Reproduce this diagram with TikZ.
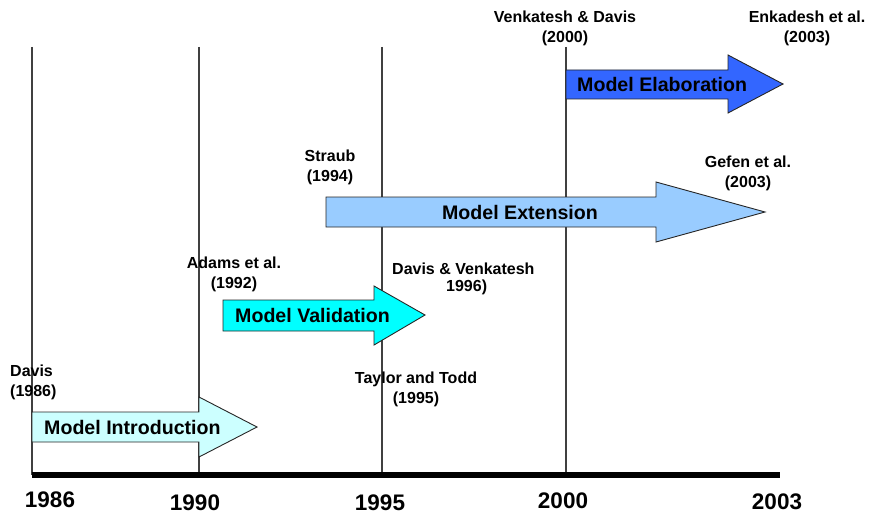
\documentclass[tikz,border=0pt]{standalone}
\usepackage{fontspec}
\setmainfont{Liberation Sans}
\begin{document}
\begin{tikzpicture}[x=1pt,y=-1pt,
  yearline/.style={draw=black!75,line width=1.1pt},
  axisline/.style={draw=black,line width=5.5pt},
  phase/.style={draw=black!85,line width=0.9pt,line join=miter},
  phasetext/.style={font=\fontsize{19.6}{22}\selectfont\bfseries,inner sep=0pt,anchor=west},
  author/.style={font=\fontsize{16}{20}\selectfont\bfseries,align=center,inner sep=0pt},
  year/.style={font=\fontsize{22.5}{26}\selectfont\bfseries,inner sep=0pt}]
\useasboundingbox (0,0) rectangle (869,516);

% year positions along the axis
\coordinate (t86) at (32,475);
\coordinate (t90) at (199,475);
\coordinate (t95) at (382,475);
\coordinate (t00) at (566,475);
\coordinate (t03) at (780,475);
\coordinate (top86) at (32,47);
\coordinate (top90) at (199,47);
\coordinate (top95) at (382,47);
\coordinate (top00) at (566,47);

% vertical year markers
\draw[yearline] (top86) -- (t86);
\draw[yearline] (top90) -- (t90);
\draw[yearline] (top95) -- (t95);
\draw[yearline] (top00) -- (t00);

% time axis
\draw[axisline] ([xshift=-0.5pt]t86) -- (t03);

% year labels
\node[year] (y86) at (50,500) {1986};
\node[year] (y90) at (195,503) {1990};
\node[year] (y95) at (380,503) {1995};
\node[year] (y00) at (563,501) {2000};
\node[year] (y03) at (777,502) {2003};

% phase arrows
\filldraw[phase,fill={rgb,255:red,204;green,255;blue,255}]
  (32,412) -- (199,412) -- (199,397) -- (257,427) -- (199,457) -- (199,442) -- (32,442) -- cycle;
\node[phasetext] (intro) at (44,427) {Model Introduction};

\filldraw[phase,fill={rgb,255:red,0;green,255;blue,255}]
  (223,300) -- (374,300) -- (374,286) -- (425,315) -- (374,345) -- (374,331) -- (223,331) -- cycle;
\node[phasetext] (valid) at (235,315) {Model Validation};

\filldraw[phase,fill={rgb,255:red,153;green,204;blue,255}]
  (326,197) -- (656,197) -- (656,182) -- (765,212) -- (656,242) -- (656,227) -- (326,227) -- cycle;
\node[phasetext,anchor=center] (ext) at (520,212) {Model Extension};

\filldraw[phase,fill={rgb,255:red,51;green,102;blue,255}]
  (566,70) -- (728,70) -- (728,55) -- (783,84) -- (728,113) -- (728,99) -- (566,99) -- cycle;
\node[phasetext] (elab) at (577,84) {Model Elaboration};

% authors
\node[author,align=left,anchor=west] (davis) at (10,382) {Davis\\(1986)};
\node[author] (adams) at (234,274) {Adams et al.\\(1992)};
\node[author,align=left,anchor=west] (dv1) at (392,269) {Davis \& Venkatesh};
\node[author,anchor=west] (dv2) at (446,287) {1996)};
\node[author] (taylor) at (416,389) {Taylor and Todd\\(1995)};
\node[author] (straub) at (330,167) {Straub\\(1994)};
\node[author] (gefen) at (748,173) {Gefen et al.\\(2003)};
\node[author] (vd) at (565,28) {Venkatesh \& Davis\\(2000)};
\node[author] (enk) at (807,28) {Enkadesh et al.\\(2003)};
\end{tikzpicture}
\end{document}
